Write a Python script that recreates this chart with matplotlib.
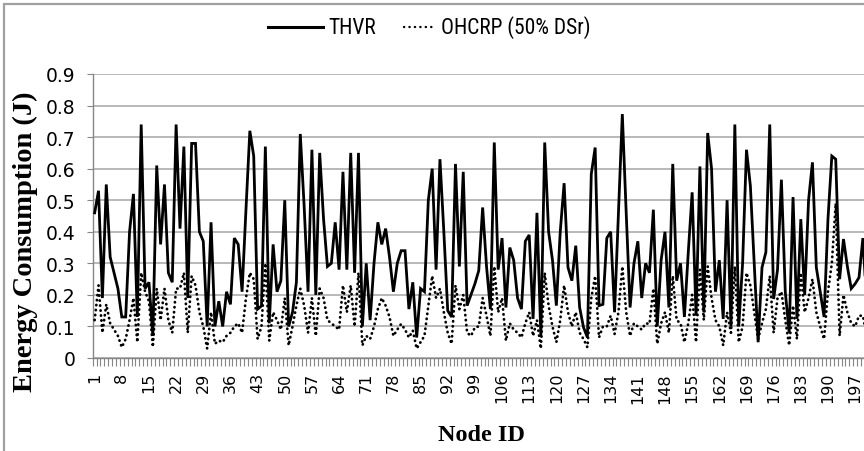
import matplotlib
matplotlib.use("Agg")
import matplotlib.pyplot as plt
from matplotlib import font_manager as fm
from matplotlib.patches import Rectangle
from matplotlib.lines import Line2D
import numpy as np

node_ids = list(range(1, 201))
tick_labels = [str(n) for n in range(1, 201, 7)]

thvr = [0.46, 0.53, 0.19, 0.55, 0.32, 0.27, 0.22, 0.13, 0.13, 0.40,
        0.52, 0.13, 0.74, 0.22, 0.24, 0.07, 0.61, 0.36, 0.55, 0.27,
        0.24, 0.74, 0.41, 0.67, 0.19, 0.68, 0.68, 0.40, 0.37, 0.10,
        0.43, 0.10, 0.18, 0.10, 0.21, 0.17, 0.38, 0.36, 0.21, 0.47,
        0.72, 0.64, 0.155, 0.165, 0.67, 0.11, 0.36, 0.21, 0.245, 0.50,
        0.10, 0.145, 0.24, 0.71, 0.48, 0.21, 0.66, 0.20, 0.65, 0.44,
        0.29, 0.30, 0.43, 0.28, 0.59, 0.28, 0.65, 0.27, 0.65, 0.10,
        0.30, 0.12, 0.30, 0.43, 0.36, 0.41, 0.32, 0.21, 0.30, 0.34,
        0.34, 0.155, 0.24, 0.065, 0.22, 0.21, 0.50, 0.60, 0.28, 0.63,
        0.40, 0.15, 0.13, 0.615, 0.29, 0.59, 0.166, 0.20, 0.235, 0.277,
        0.477, 0.29, 0.155, 0.683, 0.28, 0.38, 0.16, 0.35, 0.31, 0.19,
        0.155, 0.37, 0.39, 0.124, 0.46, 0.07, 0.683, 0.40, 0.31, 0.166,
        0.40, 0.554, 0.287, 0.245, 0.356, 0.16, 0.097, 0.065, 0.583, 0.667,
        0.166, 0.17, 0.38, 0.40, 0.145, 0.46, 0.773, 0.46, 0.16, 0.30,
        0.37, 0.19, 0.30, 0.27, 0.47, 0.10, 0.31, 0.40, 0.16, 0.615,
        0.245, 0.30, 0.13, 0.335, 0.525, 0.134, 0.607, 0.145, 0.713, 0.60,
        0.21, 0.31, 0.124, 0.50, 0.10, 0.74, 0.10, 0.30, 0.66, 0.546,
        0.30, 0.05, 0.287, 0.335, 0.74, 0.187, 0.28, 0.565, 0.21, 0.08,
        0.51, 0.124, 0.44, 0.20, 0.50, 0.62, 0.287, 0.21, 0.13, 0.44,
        0.64, 0.63, 0.25, 0.377, 0.29, 0.22, 0.235, 0.255, 0.38, 0.166]

ohcrp = [0.12, 0.23, 0.08, 0.17, 0.11, 0.09, 0.07, 0.034, 0.06, 0.12,
         0.19, 0.05, 0.27, 0.21, 0.18, 0.035, 0.22, 0.12, 0.22, 0.12,
         0.08, 0.22, 0.22, 0.27, 0.08, 0.26, 0.23, 0.145, 0.10, 0.03,
         0.145, 0.045, 0.055, 0.05, 0.07, 0.08, 0.10, 0.11, 0.08, 0.19,
         0.27, 0.25, 0.06, 0.10, 0.30, 0.055, 0.145, 0.12, 0.09, 0.19,
         0.04, 0.10, 0.166, 0.22, 0.166, 0.08, 0.19, 0.07, 0.22, 0.19,
         0.12, 0.11, 0.10, 0.09, 0.23, 0.145, 0.23, 0.10, 0.27, 0.04,
         0.07, 0.06, 0.10, 0.155, 0.19, 0.166, 0.13, 0.07, 0.09, 0.108,
         0.09, 0.065, 0.087, 0.03, 0.05, 0.07, 0.166, 0.26, 0.19, 0.22,
         0.145, 0.08, 0.045, 0.23, 0.155, 0.20, 0.08, 0.07, 0.097, 0.10,
         0.19, 0.134, 0.07, 0.29, 0.145, 0.19, 0.055, 0.11, 0.09, 0.08,
         0.065, 0.11, 0.145, 0.07, 0.12, 0.03, 0.27, 0.166, 0.10, 0.05,
         0.12, 0.23, 0.145, 0.10, 0.145, 0.08, 0.06, 0.034, 0.19, 0.26,
         0.065, 0.10, 0.10, 0.134, 0.076, 0.145, 0.29, 0.145, 0.07, 0.11,
         0.10, 0.09, 0.11, 0.108, 0.22, 0.045, 0.11, 0.145, 0.08, 0.26,
         0.12, 0.11, 0.05, 0.11, 0.20, 0.05, 0.28, 0.12, 0.29, 0.19,
         0.12, 0.10, 0.04, 0.145, 0.08, 0.29, 0.05, 0.10, 0.27, 0.23,
         0.145, 0.06, 0.11, 0.155, 0.26, 0.08, 0.19, 0.21, 0.12, 0.04,
         0.166, 0.06, 0.27, 0.145, 0.19, 0.25, 0.145, 0.10, 0.06, 0.21,
         0.30, 0.49, 0.07, 0.20, 0.145, 0.11, 0.10, 0.134, 0.134, 0.07]

series_names = ["THVR", "OHCRP (50% DSr)"]
y_ticks = [0, 0.1, 0.2, 0.3, 0.4, 0.5, 0.6, 0.7, 0.8, 0.9]
y_tick_labels = ["0", "0.1", "0.2", "0.3", "0.4", "0.5", "0.6", "0.7", "0.8", "0.9"]

# pick a narrow sans font if one is installed (legend text looks condensed)
_names = {f.name for f in fm.fontManager.ttflist}
narrow_family, narrow_stretch = "DejaVu Sans", "normal"
for cand in ["Liberation Sans Narrow", "Roboto Condensed", "Open Sans Condensed",
             "Noto Sans Condensed", "Arial Narrow"]:
    if cand in _names:
        narrow_family = cand
        break
else:
    if any(f.name == "DejaVu Sans" and f.stretch in ("condensed", "semi-condensed")
           for f in fm.fontManager.ttflist):
        narrow_stretch = "condensed"

serif = ["Liberation Serif", "DejaVu Serif"]

W, H = 864, 452
fig = plt.figure(figsize=(W / 100, H / 100), dpi=100)
ax = fig.add_axes([92.7 / W, 1 - 359 / H, 776 / W, (359 - 75) / H])

ax.plot(node_ids, thvr, color="black", lw=2.0, solid_joinstyle="miter", zorder=3)
ax.plot(node_ids, ohcrp, color="black", lw=2.0, linestyle=(0, (0.1, 1.7)),
        dash_capstyle="round", zorder=3)

ax.set_xlim(0.5, 200.5)
ax.set_ylim(0, 0.9)
ax.set_yticks(y_ticks)
ax.set_yticklabels(y_tick_labels, fontfamily="DejaVu Sans", fontsize=13.5)
ax.yaxis.grid(True, color="#a6a6a6", lw=1.1)
ax.set_axisbelow(True)

major = list(range(1, 201, 7))
ax.set_xticks(major)
ax.set_xticklabels(tick_labels, rotation=90, fontfamily="DejaVu Sans", fontsize=11.5)
ax.set_xticks(np.arange(0.5, 201, 1.0), minor=True)
ax.tick_params(axis="x", which="major", length=0, pad=10)
ax.tick_params(axis="x", which="minor", length=5.5, color="#868686", width=0.8, direction="out")
ax.tick_params(axis="y", length=4.5, color="#868686", width=0.8, direction="out", pad=8)

for s in ["top", "right"]:
    ax.spines[s].set_visible(False)
for s in ["left", "bottom"]:
    ax.spines[s].set_color("#868686")
    ax.spines[s].set_linewidth(1.0)

fig.text(481 / W, 1 - 436 / H, "Node ID", family=serif, weight="bold", fontsize=17.5,
         ha="center", va="center")
fig.text(25 / W, 1 - 242 / H, "Energy Consumption (J)", family=serif, weight="bold",
         fontsize=20.5, rotation=90, ha="center", va="center")

# legend, drawn at figure level
ly = 1 - 28 / H
fig.add_artist(Line2D([268 / W, 323 / W], [ly, ly], transform=fig.transFigure,
                      color="black", lw=2.2))
fig.text(328 / W, ly, series_names[0], family=narrow_family, stretch=narrow_stretch,
         fontsize=15.5, ha="left", va="center")
fig.add_artist(Line2D([404 / W, 434 / W], [ly, ly], transform=fig.transFigure,
                      color="black", lw=1.7, linestyle=(0, (0.1, 2.2)), dash_capstyle="round"))
fig.text(441 / W, ly, series_names[1], family=narrow_family, stretch=narrow_stretch,
         fontsize=15.5, ha="left", va="center")

border = Rectangle((4 / W, -0.1), 1.2, 1 - 5 / H + 0.1, transform=fig.transFigure,
                   fill=False, edgecolor="#a0a0a0", lw=1.6, clip_on=False)
fig.patches.append(border)

fig.savefig("out.png", dpi=100)
